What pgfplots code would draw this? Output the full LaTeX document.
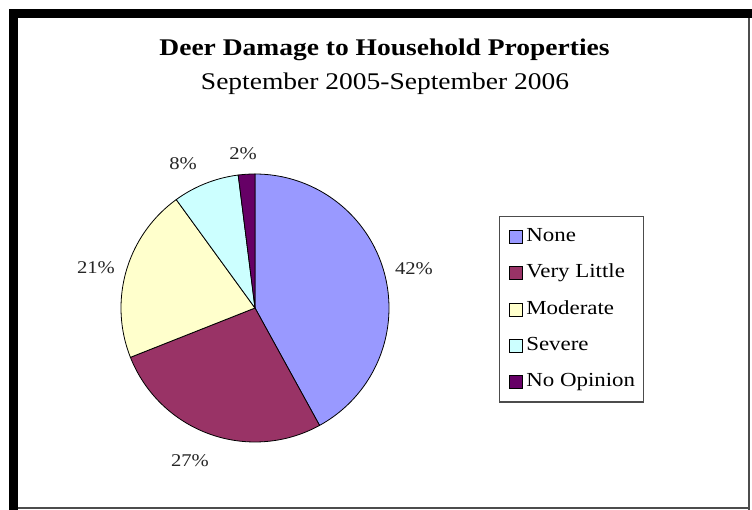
\documentclass[border=0pt]{standalone}
\usepackage{pgfplots}
\usepackage{pgfplotstable}
\pgfplotsset{compat=1.18}
\usepackage{fontspec}
\setmainfont[FakeStretch=1.15]{Liberation Serif}

\definecolor{slice0}{HTML}{9999FF}
\definecolor{slice1}{HTML}{993366}
\definecolor{slice2}{HTML}{FFFFCC}
\definecolor{slice3}{HTML}{CCFFFF}
\definecolor{slice4}{HTML}{660066}

% share of households (percent); lx, ly = position of the percentage label (px, y up)
\pgfplotstableread{
label          pct  lx   ly
None           42   414  241
{Very Little}  27   190  49
Moderate       21   96   242
Severe         8    183  346
{No Opinion}   2    243  356
}\deertable

\begin{document}
\begin{tikzpicture}
\begin{axis}[
  scale only axis, width=752bp, height=510bp,
  xmin=0, xmax=752, ymin=0, ymax=510,
  hide axis, clip=false,
  legend cell align=left,
  legend image code/.code={%
    \path (0bp,0bp);
    \draw[#1,draw=black,line width=0.6bp] (5bp,-6.5bp) rectangle (18bp,6.5bp);},
  legend style={at={(axis cs:499,294)}, anchor=north west,
    draw=black!70, line width=1.2bp, fill=white,
    inner xsep=4bp, inner ysep=11bp, row sep=17.75bp,
    font=\fontsize{20}{24}\selectfont,
    nodes={inner xsep=4bp, inner ysep=0pt, text height=14bp, text depth=4.5bp}},
]
% background and frame
\fill[white] (axis cs:0,0) rectangle (axis cs:752,510);
\fill[black] (axis cs:9,492) rectangle (axis cs:752,501);
\fill[black] (axis cs:9,0) rectangle (axis cs:18,501);
\fill[black!70] (axis cs:748,0) rectangle (axis cs:750,492);
\fill[black!70] (axis cs:18,1) rectangle (axis cs:750,3);

% pie slices, clockwise from 12 o'clock
\def\startangle{90}
\pgfplotsforeachungrouped \i in {0,...,4}{%
  \pgfplotstablegetelem{\i}{pct}\of\deertable
  \let\pct\pgfplotsretval
  \pgfmathsetmacro{\endangle}{\startangle-3.6*\pct}
  \pgfplotstablegetelem{\i}{label}\of\deertable
  \let\lab\pgfplotsretval
  \edef\temp{\noexpand\addplot[fill=slice\i, draw=black, line width=0.8bp,
      domain=\endangle:\startangle, samples=90, variable=\noexpand\t]
      ({255+134*cos(\noexpand\t)},{202+134*sin(\noexpand\t)}) -- (axis cs:255,202) -- cycle;
    \noexpand\addlegendentry{\lab}}%
  \temp
  \global\let\startangle\endangle
}

% percentage labels
\pgfplotsforeachungrouped \i in {0,...,4}{%
  \pgfplotstablegetelem{\i}{pct}\of\deertable \let\pct\pgfplotsretval
  \pgfplotstablegetelem{\i}{lx}\of\deertable \let\lx\pgfplotsretval
  \pgfplotstablegetelem{\i}{ly}\of\deertable \let\ly\pgfplotsretval
  \edef\temp{\noexpand\node[font=\noexpand\fontsize{18}{20}\noexpand\selectfont, text=black!85, inner sep=0pt]
     at (axis cs:\lx,\ly) {\pct\noexpand\%};}%
  \temp
}

% titles
\node[font=\fontsize{24}{28}\selectfont\bfseries] at (axis cs:384.5,460) {Deer Damage to Household Properties};
\node[font=\fontsize{24}{28}\selectfont] at (axis cs:385,426) {September 2005-September 2006};
\end{axis}
\end{tikzpicture}
\end{document}
